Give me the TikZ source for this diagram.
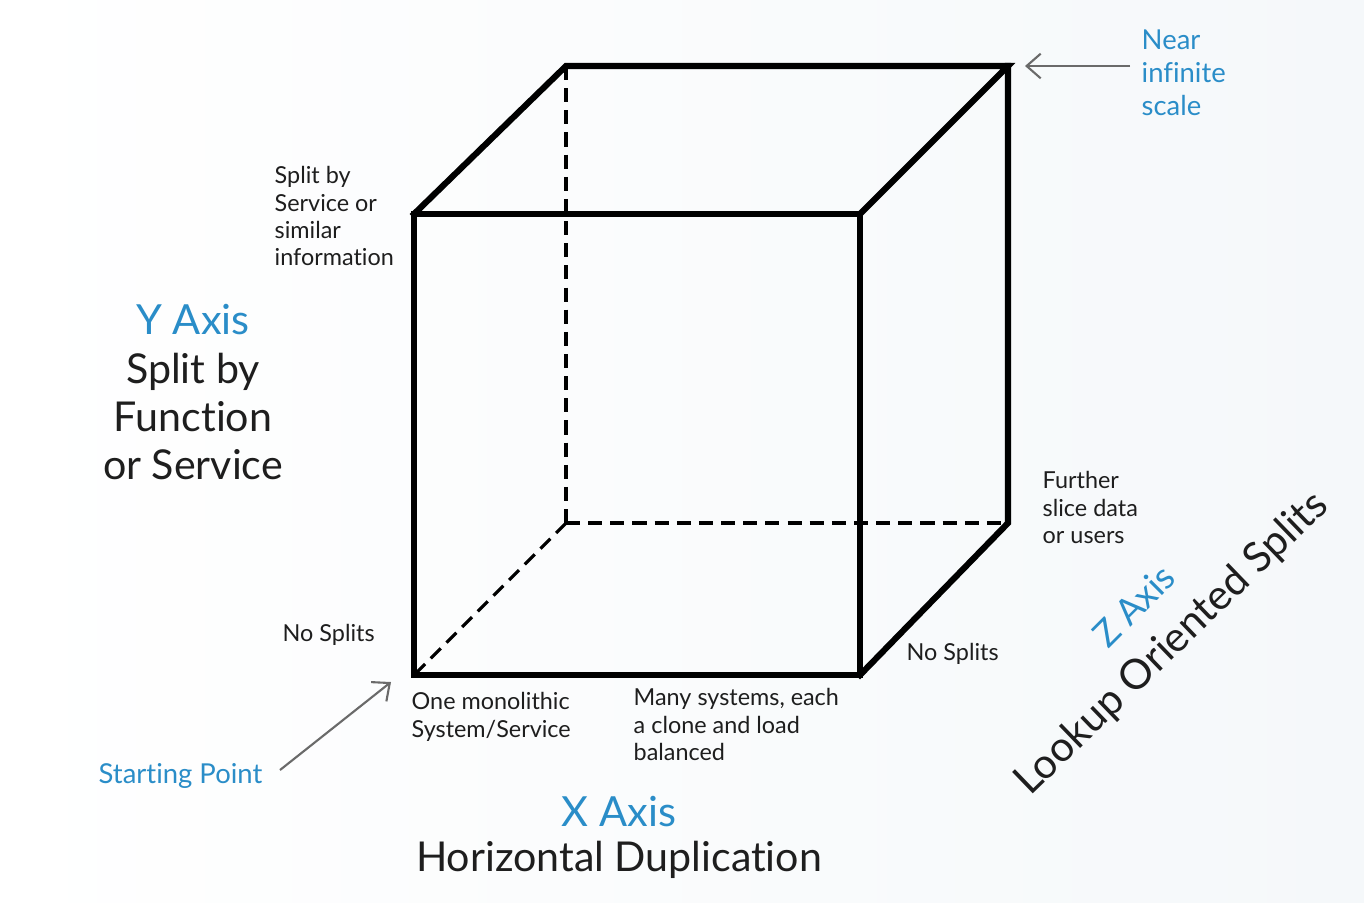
\documentclass[tikz,border=0pt]{standalone}
\usepackage{fontspec}
\setmainfont[Ligatures={NoCommon}]{Lato}
\usetikzlibrary{arrows.meta}
\definecolor{axblue}{HTML}{2A8DC8}
\definecolor{txt}{HTML}{1E1E1E}
\definecolor{arr}{HTML}{6A6A6A}
\definecolor{bgr}{HTML}{F5F8FA}
\tikzset{
  edge/.style={line width=1.75pt, line join=miter, line cap=rect},
  hidden/.style={line width=0.9pt, dash pattern=on 4pt off 2.3pt},
  small/.style={font=\fontsize{6.65pt}{7.75pt}\selectfont, text=txt, align=left, inner sep=0pt},
  big/.style={font=\fontsize{11.7pt}{13.7pt}\selectfont, text=txt, align=center, inner sep=0pt},
  bluebig/.style={font=\fontsize{11.8pt}{13.7pt}\selectfont, text=axblue, inner sep=0pt},
  bluemid/.style={font=\fontsize{7.8pt}{9.4pt}\selectfont, text=axblue, align=left, inner sep=0pt},
  pointer/.style={draw=arr, line width=0.6pt, -{Straight Barb[length=4pt,width=7pt]}},
}
\begin{document}
\begin{tikzpicture}[x=0.01cm,y=-0.01cm]
\shade[left color=white, right color=bgr] (0,0) rectangle (1364,902);
\useasboundingbox (0,0) rectangle (1364,902);
% cube corners
\coordinate (fA) at (414,214);
\coordinate (fB) at (860,214);
\coordinate (fC) at (860,675);
\coordinate (fD) at (414,675);
\coordinate (bA) at (566,66);
\coordinate (bB) at (1008,66);
\coordinate (bC) at (1008,523);
\coordinate (bD) at (566,523);
% hidden edges
\draw[hidden] (bA) -- (bD);
\draw[hidden] (bD) -- (bC);
\draw[hidden] (bD) -- (fD);
% visible edges
\draw[edge] (fA) -- (fB) -- (fC) -- (fD) -- cycle;
\draw[edge] (fA) -- (bA) -- (bB) -- (fB);
\draw[edge] (bB) -- (bC) -- (fC);
% texts
\node[small, anchor=north west] (splitsvc) at (274,166) {Split by\\Service or\\similar\\information};
\node[bluebig] (yaxis) at (193,320) {Y Axis};
\node[big, anchor=north] (ydesc) at (193,352) {Split by\\Function\\or Service};
\node[small, anchor=west] (nosplit1) at (282,635) {No Splits};
\node[small, anchor=north west] (mono) at (411,692) {One monolithic\\System/Service};
\node[small, anchor=north west] (many) at (633,688) {Many systems, each\\a clone and load\\balanced};
\node[small, anchor=west] (nosplit2) at (906,654) {No Splits};
\node[small, anchor=north west] (further) at (1042,471) {Further\\slice data\\or users};
\node[bluemid, anchor=north west] (near) at (1141,29) {Near\\infinite\\scale};
\node[bluemid, anchor=west] (start) at (98,776) {Starting Point};
\node[bluebig] (xaxis) at (619,812) {X Axis};
\node[big] (xdesc) at (619,860) {Horizontal Duplication};
\node[font=\fontsize{10.3pt}{11pt}\selectfont, text=axblue, inner sep=0pt, rotate=45] (zaxis) at (1134,606) {Z Axis};
\node[font=\fontsize{11.8pt}{13pt}\selectfont, text=txt, inner sep=0pt, rotate=44] (zdesc) at (1172,644) {Lookup Oriented Splits};
% pointers
\coordinate (nearTip) at (1025,66);
\coordinate (nearTail) at (1130,66);
\coordinate (startTip) at (391,682);
\coordinate (startTail) at (280,770);
\draw[pointer] (nearTail) -- (nearTip);
\draw[pointer] (startTail) -- (startTip);
\end{tikzpicture}
\end{document}
